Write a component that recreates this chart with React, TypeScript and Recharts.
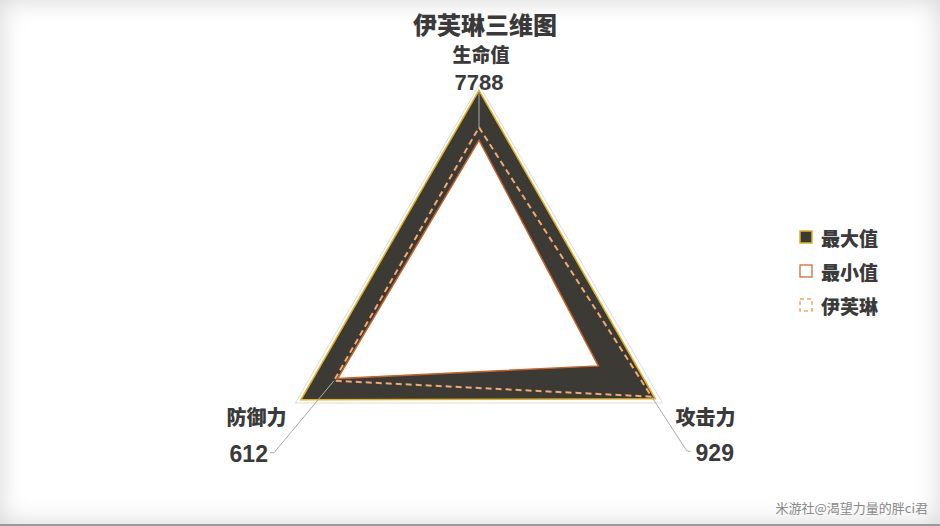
import React from 'react';
import { RadarChart, Radar, PolarGrid, PolarAngleAxis, PolarRadiusAxis, Legend } from 'recharts';

const axes = ['生命值', '攻击力', '防御力'];
const maxValues = [0.975, 0.96, 0.97];
const minValues = [0.74, 0.65, 0.77];
const evelynNorm = [0.8, 0.94, 0.79];
const evelynValues = [7788, 929, 612];
const seriesNames = ['最大值', '最小值', '伊芙琳'];

const data = axes.map((a, i) => ({
  axis: a,
  max: maxValues[i],
  min: minValues[i],
  evelyn: evelynNorm[i],
  raw: evelynValues[i],
}));

const FONT = '"Noto Sans CJK SC", "Noto Sans", sans-serif';
const NUM_FONT = '"Liberation Sans", Arial, sans-serif';
const TEXT = '#3a3a3a';
const DARK = '#3c3a34';
const GOLD = '#e2b020';
const ORANGE = '#c8612a';
const DASH = '#f2a96e';
const W = 900;

const NameTick = (props: any) => {
  const { x, y, payload } = props;
  const i = axes.indexOf(payload.value);
  const off = [
    [2, -24],
    [36, 9],
    [-32, 9],
  ][i] || [0, 0];
  return (
    <text
      x={x + off[0]}
      y={y + off[1]}
      textAnchor="middle"
      dominantBaseline="central"
      fontFamily={FONT}
      fontWeight={W}
      fontSize={i === 0 ? 19 : 20}
      fill={TEXT}
    >
      {payload.value}
    </text>
  );
};

const EvelynDot = (props: any) => {
  const { cx, cy, index } = props;
  if (cx == null || cy == null) return <g key={`d${index}`} />;
  const raw = evelynValues[index];
  const common = {
    fontFamily: NUM_FONT,
    fontWeight: 700,
    fontSize: 23,
    fill: TEXT,
    dominantBaseline: 'central' as any,
  };
  if (index === 0) {
    return (
      <g key={`d${index}`}>
        <line x1={cx} y1={cy} x2={cx} y2={cy - 37} stroke="#aaaaaa" strokeWidth={1} />
        <text x={cx} y={cy - 45} textAnchor="middle" {...common} fontSize={22}>{raw}</text>
      </g>
    );
  }
  if (index === 1) {
    return (
      <g key={`d${index}`}>
        <polyline
          points={`${cx},${cy} ${cx + 35},${cy + 54} ${cx + 39},${cy + 55}`}
          fill="none"
          stroke="#aaaaaa"
          strokeWidth={1}
        />
        <text x={cx + 44} y={cy + 56} textAnchor="start" {...common}>{raw}</text>
      </g>
    );
  }
  return (
    <g key={`d${index}`}>
      <polyline
        points={`${cx},${cy} ${cx - 60},${cy + 72} ${cx - 64},${cy + 72}`}
        fill="none"
        stroke="#aaaaaa"
        strokeWidth={1}
      />
      <text x={cx - 66} y={cy + 73} textAnchor="end" {...common}>{raw}</text>
    </g>
  );
};

const LegendContent = () => {
  const icons = [
    <rect x={1} y={1} width={12} height={12} fill={DARK} stroke={GOLD} strokeWidth={1.5} />,
    <rect x={1} y={1} width={12} height={12} fill="#ffffff" stroke={ORANGE} strokeWidth={1.2} />,
    <rect x={1} y={1} width={12} height={12} fill="none" stroke={DASH} strokeWidth={1.5} strokeDasharray="4 3" />,
  ];
  return (
    <div style={{ fontFamily: FONT }}>
      {seriesNames.map((n, i) => (
        <div key={n} style={{ display: 'flex', alignItems: 'center', height: 34 }}>
          <svg width={14} height={14} style={{ marginRight: 8 }}>{icons[i]}</svg>
          <span style={{ fontSize: 19, fontWeight: W, color: TEXT }}>{n}</span>
        </div>
      ))}
    </div>
  );
};

export default function App() {
  return (
    <div
      style={{
        position: 'absolute',
        left: 0,
        top: 0,
        width: 940,
        height: 526,
        background: '#ffffff',
        overflow: 'hidden',
        boxShadow: 'inset 0 0 26px rgba(0,0,0,0.17)',
        borderBottom: '2px solid #999',
        boxSizing: 'border-box',
      }}
    >
      <div
        style={{
          position: 'absolute',
          left: 385,
          width: 200,
          top: 8,
          textAlign: 'center',
          fontFamily: FONT,
          fontWeight: W,
          fontSize: 24,
          lineHeight: '32px',
          color: TEXT,
        }}
      >
        伊芙琳三维图
      </div>
      <div style={{ position: 'absolute', left: 0, top: 0 }}>
        <RadarChart
          width={940}
          height={526}
          data={data}
          cx={479}
          cy={297}
          outerRadius={212}
          margin={{ top: 0, right: 0, bottom: 0, left: 0 }}
        >
          <PolarGrid gridType="polygon" radialLines={false} stroke="#dddddd" polarRadius={[212]} />
          <PolarAngleAxis dataKey="axis" tick={NameTick} tickLine={false} axisLine={false} />
          <PolarRadiusAxis domain={[0, 1]} tick={false} axisLine={false} />
          <Radar
            name={seriesNames[0]}
            dataKey="max"
            fill={DARK}
            fillOpacity={1}
            stroke={GOLD}
            strokeWidth={1.5}
            isAnimationActive={false}
          />
          <Radar
            name={seriesNames[1]}
            dataKey="min"
            fill="#ffffff"
            fillOpacity={1}
            stroke={ORANGE}
            strokeWidth={1.5}
            isAnimationActive={false}
          />
          <Radar
            name={seriesNames[2]}
            dataKey="evelyn"
            fill="none"
            fillOpacity={0}
            stroke={DASH}
            strokeWidth={2}
            strokeDasharray="6 4"
            dot={EvelynDot}
            isAnimationActive={false}
          />
          <Legend
            layout="vertical"
            align="right"
            verticalAlign="middle"
            content={LegendContent}
            wrapperStyle={{ left: 799, top: 220, width: 120 }}
          />
        </RadarChart>
      </div>
      <div
        style={{
          position: 'absolute',
          right: 12,
          top: 498,
          fontFamily: FONT,
          fontSize: 13,
          color: '#8a8a8a',
        }}
      >
        米游社@渴望力量的胖ci君
      </div>
    </div>
  );
}
